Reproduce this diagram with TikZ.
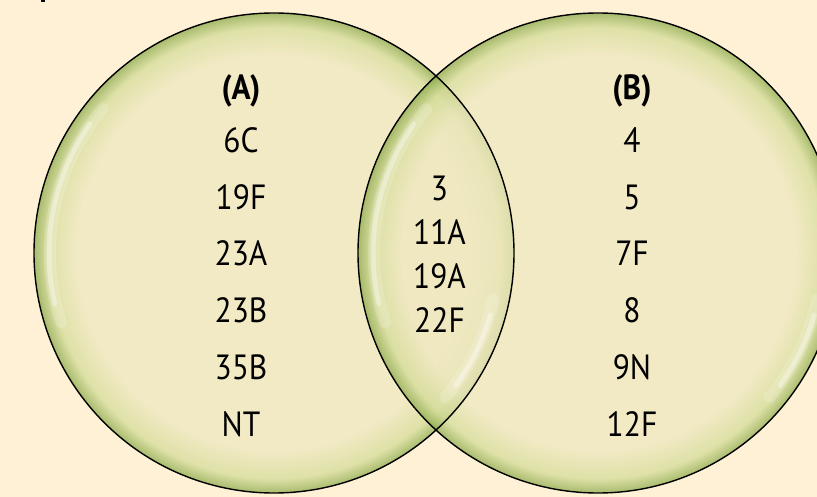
\documentclass[tikz,border=0pt]{standalone}
\usepackage{fontspec}
\setmainfont[FakeStretch=0.9]{PT Sans}
\definecolor{bg}{RGB}{254,241,214}
\definecolor{cin}{RGB}{238,232,192}
\definecolor{cmid}{RGB}{212,220,152}
\definecolor{cgreen}{RGB}{140,170,75}
\pgfdeclareradialshading{vennrim}{\pgfpoint{0bp}{0bp}}{color(0bp)=(cin); color(20.5bp)=(cin); color(23.5bp)=(cmid); color(25bp)=(cgreen); color(50bp)=(cgreen)}
\begin{document}
\begin{tikzpicture}[x=1pt,y=-1pt,
  lbl/.style={font=\fontsize{35}{35}\selectfont, inner sep=0pt, text height=24pt, text depth=0pt, anchor=center},
  hdr/.style={inner sep=0pt, text height=24pt, text depth=0pt, anchor=center, font=\fontsize{35}{35}\selectfont\bfseries},
  ring/.style={draw=black, line width=1.4pt},
  glossA/.style={white, line cap=round, line width=12pt, opacity=0.18},
  glossB/.style={white, line cap=round, line width=5pt, opacity=0.35}]
\fill[bg] (0,0) rectangle (817,497);
\useasboundingbox (0,0) rectangle (817,497);
\fill[black] (41,0) rectangle (45,2.5);
\coordinate (cL) at (274,253);
\coordinate (cR) at (598,253);
\shade[shading=vennrim, fill opacity=0.75] (cL) circle[radius=240];
\shade[shading=vennrim, fill opacity=0.75] (cR) circle[radius=240];
% gloss highlights
\foreach \c in {cL,cR}{
  \draw[glossA] (\c) ++(-140:224) arc[start angle=-140, end angle=-198, radius=224];
  \draw[glossB] (\c) ++(-145:225) arc[start angle=-145, end angle=-193, radius=225];
  \draw[glossA] (\c) ++(12:224) arc[start angle=12, end angle=40, radius=224];
  \draw[glossB] (\c) ++(16:225) arc[start angle=16, end angle=36, radius=225];
}
\draw[ring] (cL) circle[radius=240];
\draw[ring] (cR) circle[radius=240];
% set A
\node[hdr] (hA) at (241,88) {(A)};
\node[lbl] (a1) at (241,140.5) {6C};
\node[lbl] (a2) at (241,197.2) {19F};
\node[lbl] (a3) at (241,253.9) {23A};
\node[lbl] (a4) at (241,310.6) {23B};
\node[lbl] (a5) at (241,367.3) {35B};
\node[lbl] (a6) at (241,424) {NT};
% intersection
\node[lbl] (m1) at (439.5,188.5) {3};
\node[lbl] (m2) at (439.5,232.5) {11A};
\node[lbl] (m3) at (439.5,276.5) {19A};
\node[lbl] (m4) at (439.5,320.5) {22F};
% set B
\node[hdr] (hB) at (632,88) {(B)};
\node[lbl] (b1) at (632,140.5) {4};
\node[lbl] (b2) at (632,197.2) {5};
\node[lbl] (b3) at (632,253.9) {7F};
\node[lbl] (b4) at (632,310.6) {8};
\node[lbl] (b5) at (632,367.3) {9N};
\node[lbl] (b6) at (632,424) {12F};
\end{tikzpicture}
\end{document}
